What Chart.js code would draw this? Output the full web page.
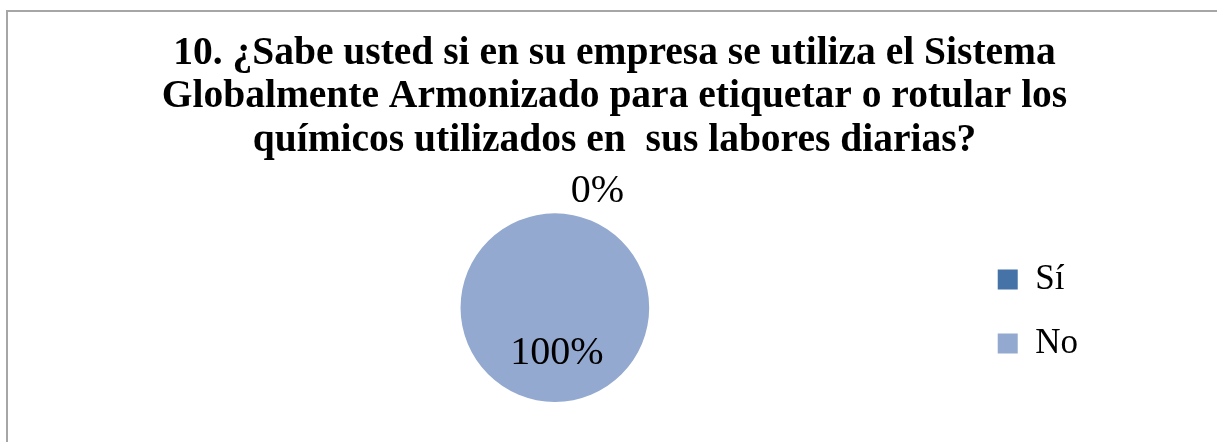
<!DOCTYPE html>
<html>
<head>
<meta charset="utf-8">
<script src="https://cdn.jsdelivr.net/npm/chart.js@4/dist/chart.umd.min.js"></script>
<style>
    html, body { margin: 0; padding: 0; background: #fff; }
    #wrap { position: relative; width: 1217px; height: 442px; overflow: hidden; }
    #frame { position: absolute; left: 6px; top: 10px; width: 1300px; height: 500px;
             border-left: 2px solid #a6a6a6; border-top: 2px solid #a6a6a6; }
    canvas { position: absolute; left: 0; top: 0; }
</style>
</head>
<body>
<div id="wrap">
    <div id="frame"></div>
    <canvas id="piechart" width="1217" height="442"></canvas>
</div>
<script>
const titleLines = [
    "10. ¿Sabe usted si en su empresa se utiliza el Sistema",
    "Globalmente Armonizado para etiquetar o rotular los",
    "químicos utilizados en  sus labores diarias?"
];
const categories = ["Sí", "No"];
const percents = [0, 100];
const sliceColors = ["#4572a7", "#93a9cf"];

// percentage labels, placed from each arc's own geometry
const sliceLabels = {
    id: 'sliceLabels',
    afterDatasetsDraw(chart) {
        const ctx = chart.ctx;
        const meta = chart.getDatasetMeta(0);
        ctx.save();
        ctx.font = '40px "Liberation Serif", "Times New Roman", serif';
        ctx.fillStyle = '#000';
        ctx.textBaseline = 'middle';
        meta.data.forEach((arc, i) => {
            const p = arc.getProps(['x', 'y', 'startAngle', 'endAngle', 'outerRadius']);
            const mid = (p.startAngle + p.endAngle) / 2;
            const text = percents[i] + '%';
            if (p.endAngle - p.startAngle < 0.3) {
                // tiny slice: label outside the pie
                const r = p.outerRadius + 22;
                ctx.textAlign = 'left';
                ctx.fillText(text, p.x + Math.cos(mid) * r + 16, p.y + Math.sin(mid) * r);
            } else {
                const r = p.outerRadius * 0.49;
                ctx.textAlign = 'center';
                ctx.fillText(text, p.x + Math.cos(mid) * r + 2, p.y + Math.sin(mid) * r);
            }
        });
        ctx.restore();
    }
};

var ctx = document.getElementById('piechart').getContext('2d');
var myChart = new Chart(ctx, {
    type: 'pie',
    data: {
        labels: categories,
        datasets: [{
            data: percents,
            backgroundColor: sliceColors,
            borderWidth: 0
        }]
    },
    options: {
        responsive: false,
        animation: false,
        layout: {
            padding: { left: 141, right: 129, bottom: 40, top: 0 }
        },
        plugins: {
            title: {
                display: true,
                text: titleLines,
                color: '#000',
                font: { family: '"Liberation Serif", "Times New Roman", serif', size: 39.5, weight: 'bold', lineHeight: 1.1 },
                padding: { top: 32, bottom: 51 }
            },
            legend: {
                position: 'right',
                align: 'start',
                title: {
                    display: true,
                    text: '',
                    font: { size: 10 },
                    padding: { top: 221, bottom: 0 }
                },
                labels: {
                    color: '#000',
                    boxWidth: 20,
                    boxHeight: 20,
                    padding: 29,
                    font: { family: '"Liberation Serif", "Times New Roman", serif', size: 35 }
                }
            },
            tooltip: { enabled: false }
        }
    },
    plugins: [sliceLabels]
});
</script>
</body>
</html>
